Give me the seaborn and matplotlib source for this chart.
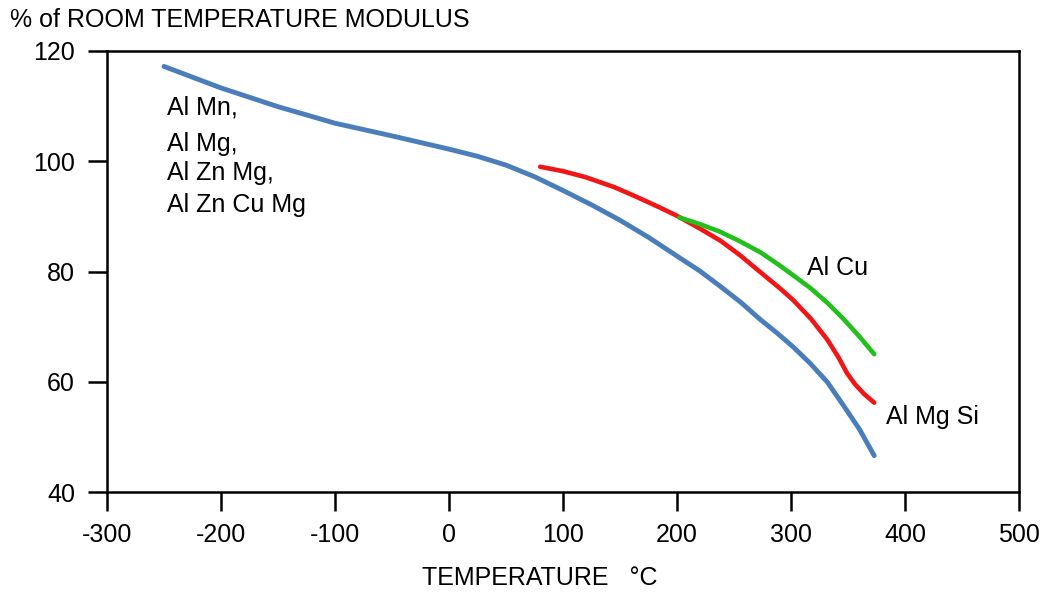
import matplotlib
matplotlib.use("Agg")
import matplotlib.pyplot as plt
import seaborn as sns
import pandas as pd

# Data
blue_temp = [-250, -200, -150, -100, -50, 0, 25, 50, 75, 100, 125, 150, 175, 200,
             220, 238, 256, 273, 288, 302, 317, 332, 346, 360, 373]
blue_mod = [117.2, 113.3, 109.9, 106.9, 104.6, 102.2, 100.9, 99.3, 97.2, 94.7, 92.1, 89.3, 86.2, 82.8,
            80.1, 77.3, 74.4, 71.3, 68.8, 66.3, 63.3, 59.9, 55.7, 51.4, 46.6]

red_temp = [80, 100, 120, 145, 165, 185, 200, 220, 238, 255, 273, 290, 302, 318, 332, 342, 349, 356, 364, 373]
red_mod = [99.0, 98.2, 97.1, 95.3, 93.5, 91.6, 90.1, 87.8, 85.6, 83.0, 79.9, 77.0, 74.8, 71.3, 67.6, 64.3,
           61.6, 59.6, 57.8, 56.2]

green_temp = [202, 220, 238, 255, 273, 288, 302, 317, 332, 346, 360, 373]
green_mod = [89.8, 88.6, 87.2, 85.5, 83.5, 81.4, 79.3, 77.0, 74.3, 71.4, 68.2, 65.0]

x_ticks = [-300, -200, -100, 0, 100, 200, 300, 400, 500]
y_ticks = [40, 60, 80, 100, 120]

left_labels = ["Al Mn,", "Al Mg,", "Al Zn Mg,", "Al Zn Cu Mg"]
left_label_y = [109.7, 103.2, 97.9, 92.1]

sns.set_theme(style="white")
plt.rcParams["font.family"] = ["Liberation Sans", "DejaVu Sans"]
plt.rcParams["axes.unicode_minus"] = False

fig = plt.figure(figsize=(10.6, 5.95), dpi=100)
ax = fig.add_axes([107 / 1060, 1 - 492 / 595, 912 / 1060, 441 / 595])

df_blue = pd.DataFrame({"t": blue_temp, "m": blue_mod})
df_red = pd.DataFrame({"t": red_temp, "m": red_mod})
df_green = pd.DataFrame({"t": green_temp, "m": green_mod})

sns.lineplot(data=df_blue, x="t", y="m", ax=ax, color="#4a7ebb", linewidth=3.5,
             sort=False, solid_capstyle="round", solid_joinstyle="round")
sns.lineplot(data=df_red, x="t", y="m", ax=ax, color="#f21515", linewidth=3.3,
             sort=False, solid_capstyle="round", solid_joinstyle="round")
sns.lineplot(data=df_green, x="t", y="m", ax=ax, color="#22c01a", linewidth=3.3,
             sort=False, solid_capstyle="round", solid_joinstyle="round")

ax.set_xlim(-300, 500)
ax.set_ylim(40, 120)
ax.set_xticks(x_ticks)
ax.set_yticks(y_ticks)
ax.set_xlabel("")
ax.set_ylabel("")
for s in ax.spines.values():
    s.set_visible(True)
    s.set_color("black")
    s.set_linewidth(1.8)
ax.tick_params(axis="both", which="major", direction="out", length=14,
               width=1.8, color="black", labelsize=18, labelcolor="black",
               bottom=True, left=True)
ax.tick_params(axis="x", pad=8)
ax.tick_params(axis="y", pad=9)

fs = 18
for lab, yy in zip(left_labels, left_label_y):
    ax.text(-247, yy, lab, fontsize=fs, ha="left", va="center", color="black")
ax.text(314, 80.7, "Al Cu", fontsize=fs, ha="left", va="center", color="black")
ax.text(383, 53.6, "Al Mg Si", fontsize=fs, ha="left", va="center", color="black")

fig.text(10 / 1060, 1 - 20 / 595, "% of ROOM TEMPERATURE MODULUS", fontsize=fs,
         ha="left", va="center", color="black")
fig.text(540 / 1060, 1 - 578 / 595, "TEMPERATURE   °C", fontsize=fs,
         ha="center", va="center", color="black")

fig.savefig("out.png", dpi=100, facecolor="white")
